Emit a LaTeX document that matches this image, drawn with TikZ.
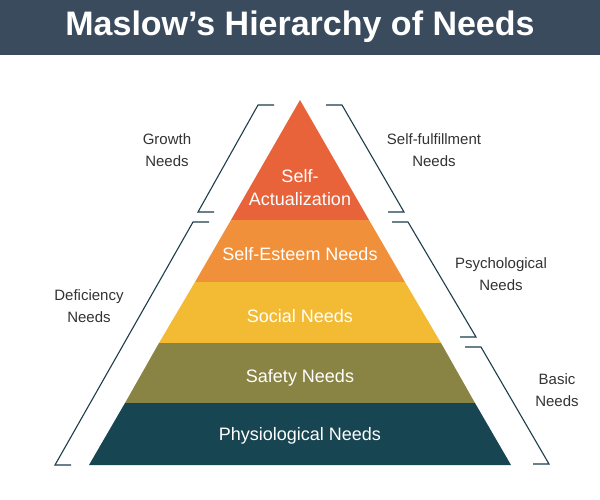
\documentclass[tikz,border=0pt]{standalone}
\usepackage{fontspec}
\setmainfont{Liberation Sans}
\begin{document}
\begin{tikzpicture}[x=1pt,y=-1pt,
  layer/.style={text=white,font=\fontsize{18}{21}\selectfont,align=center},
  side/.style={text=black!80,font=\fontsize{15}{22}\selectfont,align=center},
  brk/.style={draw=black!30!cyan!30!black!90,line width=1.1pt}]
\definecolor{hdr}{HTML}{3B4B5E}
\definecolor{cA}{HTML}{E8623A}
\definecolor{cB}{HTML}{F0903A}
\definecolor{cC}{HTML}{F3BB33}
\definecolor{cD}{HTML}{8A8444}
\definecolor{cE}{HTML}{174552}
\definecolor{brc}{HTML}{1E3D4C}
\useasboundingbox (0,0) rectangle (600,500);
\fill[white] (0,0) rectangle (600,500);
\fill[hdr] (0,0) rectangle (600,55);
\node[text=white,font=\fontsize{34}{38}\selectfont\bfseries] (title) at (300,27) {Maslow's Hierarchy of Needs};
\fill[cA] (300,100) -- (369,220) -- (231,220) -- cycle;
\fill[cB] (231,220) -- (369,220) -- (405,282) -- (195,282) -- cycle;
\fill[cC] (195,282) -- (405,282) -- (441,343) -- (159,343) -- cycle;
\fill[cD] (159,343) -- (441,343) -- (475,403) -- (125,403) -- cycle;
\fill[cE] (125,403) -- (475,403) -- (511,465) -- (89,465) -- cycle;
\node[layer] (l1) at (300,188) {Self-\\[2pt]Actualization};
\node[layer] (l2) at (300,254) {Self-Esteem Needs};
\node[layer] (l3) at (300,316) {Social Needs};
\node[layer] (l4) at (300,378) {Safety Needs};
\node[layer] (l5) at (300,436) {Physiological Needs};
\begin{scope}[draw=brc,line width=1.1pt]
\draw (274,105) -- (258,105) -- (198,212) -- (214,212);
\draw (209,222) -- (193,222) -- (55,465) -- (71,465);
\draw (326,105) -- (342,105) -- (404,212) -- (388,212);
\draw (392,222) -- (408,222) -- (476,337) -- (460,337);
\draw (465,347) -- (481,347) -- (549,464) -- (533,464);
\end{scope}
\node[side] (g) at (167,150) {Growth\\Needs};
\node[side] (d) at (89,306) {Deficiency\\Needs};
\node[side] (sf) at (434,150) {Self-fulfillment\\Needs};
\node[side] (p) at (501,274) {Psychological\\Needs};
\node[side] (b) at (557,390) {Basic\\Needs};
\end{tikzpicture}
\end{document}
